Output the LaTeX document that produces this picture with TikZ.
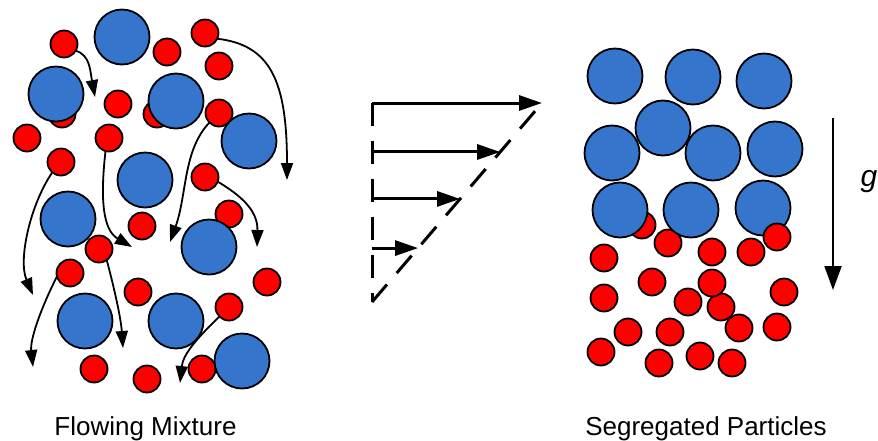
\documentclass[tikz,border=0pt]{standalone}
\usepackage{fontspec}
\setmainfont{Liberation Sans}
\usetikzlibrary{arrows.meta,calc}
\definecolor{ballblue}{RGB}{53,117,204}
\definecolor{ballred}{RGB}{255,0,0}
\begin{document}
\begin{tikzpicture}[x=1pt,y=-1pt,
  ball/.style={circle,draw=black,line width=1.8pt,inner sep=0pt,outer sep=0pt},
  small/.style={ball,fill=ballred,minimum size=27pt},
  big/.style={ball,fill=ballblue,minimum size=55pt},
  flow/.style={line width=1.8pt,-{Triangle[length=17pt,width=12pt]}},
  wall/.style={line width=3pt,dash pattern=on 23pt off 15pt},
  vel/.style={line width=3pt,-{Triangle[length=23pt,width=15pt]}},
  grav/.style={line width=2pt,-{Triangle[length=24pt,width=17pt]}},
  caption/.style={font=\fontsize{26}{31}\selectfont,anchor=base,inner sep=0pt}
]
\useasboundingbox (0,0) rectangle (878,440);

% ---------- flowing mixture ----------
% small particles lying underneath the large ones
\foreach \n/\p in {lr1/{(64,44)}, lr2/{(167,52)}, lr3/{(205,33)}, lr4/{(219,66)},
  lr5/{(118,104)}, lr6/{(62,114)}, lr7/{(157,114)}, lr8/{(219,113)},
  lr9/{(27,138)}, lr10/{(109,138)}, lr11/{(61,162)}, lr12/{(205,177)},
  lr13/{(229,214)}, lr14/{(142,226)}, lr15/{(70,273)}, lr16/{(267,282)},
  lr17/{(138,292)}, lr18/{(229,307)}, lr19/{(94,369)}, lr20/{(147,379)},
  lr21/{(202,369)}}
  \node[small] (\n) at \p {};
% large particles
\foreach \n/\p in {lb1/{(122,37)}, lb2/{(56,94)}, lb3/{(176,101)}, lb4/{(249,141)},
  lb5/{(145,180)}, lb6/{(68,219)}, lb7/{(209,247)}, lb8/{(85,321)},
  lb9/{(176,321)}, lb10/{(242,361)}}
  \node[big] (\n) at \p {};
\node[small] (lr22) at (99,249) {};

% particle paths
\coordinate (t1) at (95,97);
\coordinate (t2) at (287,180);
\coordinate (t3) at (170,242);
\coordinate (t4) at (257,247);
\coordinate (t5) at (132,247);
\coordinate (t6) at (33,295);
\coordinate (t7) at (123,348);
\coordinate (t8) at (33,367);
\coordinate (t9) at (180,383);
\draw[flow] (lr1.-30) .. controls (90,55) and (90,70) .. (t1);
\draw[flow] (lr3.-25) .. controls (270,45) and (287,80) .. (t2);
\draw[flow] (lr8.-135) .. controls (183,150) and (187,195) .. (t3);
\draw[flow] (lr12.-20) .. controls (240,195) and (258,210) .. (t4);
\draw[flow] (lr10.-105) .. controls (100,200) and (103,230) .. (t5);
\draw[flow] (lr11.-130) .. controls (30,205) and (18,260) .. (t6);
\draw[flow] (lr22.-55) .. controls (116,295) and (121,320) .. (t7);
\draw[flow] (lr15.-165) .. controls (40,310) and (30,340) .. (t8);
\draw[flow] (lr18.-135) .. controls (195,340) and (183,355) .. (t9);

\node[caption] (capl) at (145.5,435) {Flowing Mixture};

% ---------- shear velocity profile ----------
\coordinate (wt) at (372,103);
\coordinate (wb) at (372,302);
\coordinate (dt) at (542,103);
\draw[wall] (wt) -- (wb);
\draw[wall] (wb) -- (dt);
\foreach \f in {1,0.754,0.518,0.271}
  \draw[vel] ($(wb)!\f!(wt)$) -- ($(wb)!\f!(dt)$);

% ---------- segregated particles ----------
\foreach \n/\p in {rr1/{(642,225)}, rr2/{(668,243)}}
  \node[small] (\n) at \p {};
\foreach \n/\p in {rb1/{(615,76)}, rb2/{(693,77)}, rb3/{(764,81)}, rb4/{(612,153)},
  rb5/{(663,128)}, rb6/{(713,153)}, rb7/{(775,149)}, rb8/{(620,210)},
  rb9/{(691,210)}, rb10/{(763,208)}}
  \node[big] (\n) at \p {};
\foreach \n/\p in {rr3/{(712,252)}, rr4/{(751,252)}, rr5/{(777,237)}, rr6/{(604,258)},
  rr7/{(652,282)}, rr8/{(604,298)}, rr9/{(688,302)}, rr10/{(721,307)},
  rr11/{(739,328)}, rr12/{(712,283)}, rr13/{(784,292)}, rr14/{(628,332)},
  rr15/{(670,332)}, rr16/{(777,327)}, rr17/{(601,352)}, rr18/{(659,363)},
  rr19/{(700,356)}, rr20/{(732,363)}}
  \node[small] (\n) at \p {};

\node[caption] (capr) at (706,435) {Segregated Particles};

% gravity
\coordinate (g0) at (833,118);
\coordinate (g1) at (833,290);
\draw[grav] (g0) -- (g1);
\node[caption,font=\fontsize{30}{36}\selectfont\itshape] (glabel) at (869,186) {g};
\end{tikzpicture}
\end{document}
